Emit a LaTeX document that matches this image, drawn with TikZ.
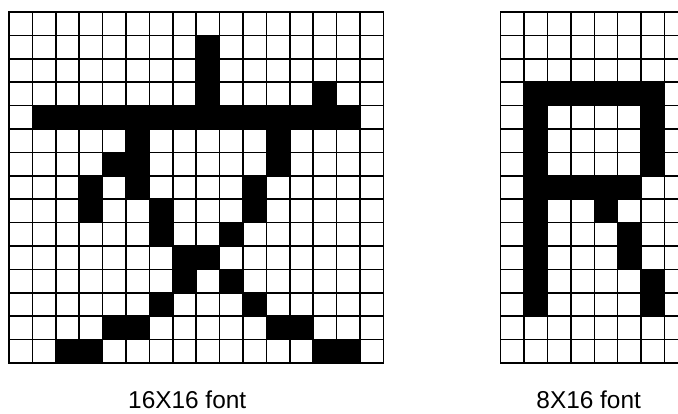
\documentclass[tikz,border=0pt]{standalone}
\usepackage{fontspec}
\setmainfont{Liberation Sans}
\begin{document}
\begin{tikzpicture}[
            x=1pt, y=-1pt,
            rejilla/.style = {draw=black, line width=1.5pt, line cap=rect},
            pixel/.style = {fill=black},
            etiqueta/.style = {anchor=base, inner sep=0pt, font=\fontsize{24.4}{29}\selectfont}
        ]
        \useasboundingbox (0,0) rectangle (678,414);
        \clip (0,0) rectangle (678,414);

        % Celdas negras de la rejilla 16X16
        \foreach \c/\r in {8/1,8/2,8/3,13/3,
                           1/4,2/4,3/4,4/4,5/4,6/4,7/4,8/4,9/4,10/4,11/4,12/4,13/4,14/4,
                           5/5,11/5,4/6,5/6,11/6,3/7,5/7,10/7,3/8,6/8,10/8,
                           6/9,9/9,7/10,8/10,7/11,9/11,6/12,10/12,
                           4/13,5/13,11/13,12/13,2/14,3/14,13/14,14/14}
            \fill[pixel] ({9+23.4*\c},{12+23.4*\r}) rectangle ++(23.4,23.4);

        % Celdas negras de la rejilla 8X16
        \foreach \c/\r in {1/3,2/3,3/3,4/3,5/3,6/3,
                           1/4,6/4,1/5,6/5,1/6,6/6,
                           1/7,2/7,3/7,4/7,5/7,
                           1/8,4/8,1/9,5/9,1/10,5/10,1/11,6/11,1/12,6/12}
            \fill[pixel] ({500.7+23.4*\c},{12+23.4*\r}) rectangle ++(23.4,23.4);

        % Lineas de las rejillas
        \foreach \c in {0,...,16}
            \draw[rejilla] ({9+23.4*\c},12) -- ++(0,351);
        \foreach \r in {0,...,15}
            \draw[rejilla] (9,{12+23.4*\r}) -- ++(374.4,0);
        \foreach \c in {0,...,8}
            \draw[rejilla] ({500.7+23.4*\c},12) -- ++(0,351);
        \foreach \r in {0,...,15}
            \draw[rejilla] (500.7,{12+23.4*\r}) -- ++(187.2,0);

        % Etiquetas
        \node[etiqueta] (ancho) at (187.2,408) {16X16 font};
        \node[etiqueta] (estrecho) at (588.7,408) {8X16 font};

    \end{tikzpicture}
\end{document}
